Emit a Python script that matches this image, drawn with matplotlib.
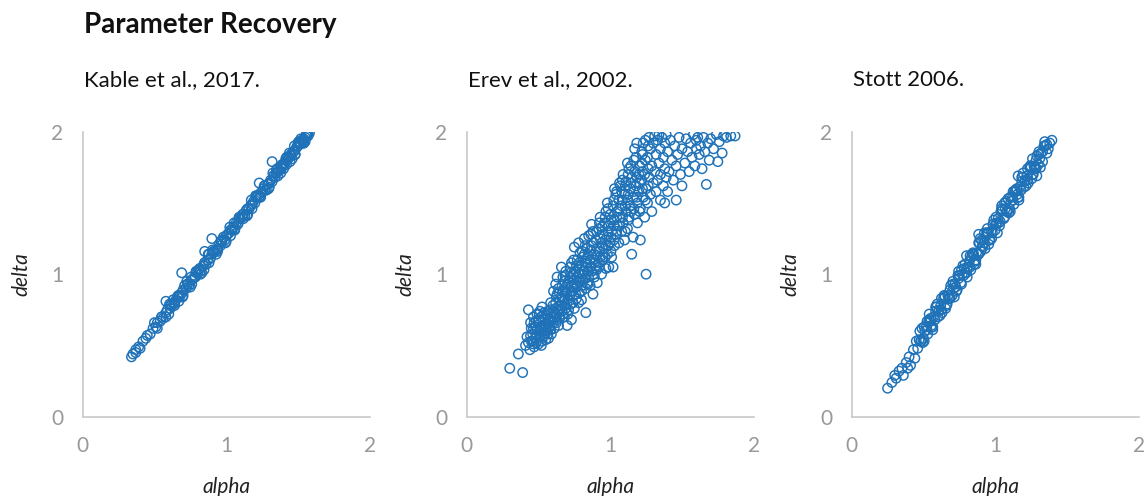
import matplotlib
matplotlib.use("Agg")
import matplotlib.pyplot as plt

plt.rcParams['font.family'] = ['Lato', 'DejaVu Sans']

# Kable et al., 2017.
kable_alpha = [0.34, 0.35, 0.37, 0.39, 0.40, 0.42, 0.44, 0.45, 0.47, 0.49,
               0.51, 0.52, 0.54, 0.55, 0.56, 0.58, 0.59, 0.61, 0.62, 0.64,
               0.65, 0.66, 0.68, 0.69, 0.70, 0.72, 0.73, 0.74, 0.76, 0.77,
               0.78, 0.80, 0.81, 0.82, 0.84, 0.85, 0.86, 0.87, 0.89, 0.90,
               0.91, 0.92, 0.94, 0.95, 0.96, 0.97, 0.99, 1.00, 1.01, 1.02,
               1.04, 1.05, 1.06, 1.07, 1.08, 1.10, 1.11, 1.12, 1.13, 1.14,
               1.16, 1.17, 1.18, 1.19, 1.20, 1.22, 1.23, 1.24, 1.25, 1.26,
               1.27, 1.29, 1.30, 1.31, 1.32, 1.33, 1.34, 1.35, 1.36, 1.37,
               1.38, 1.39, 1.40, 1.41, 1.42, 1.43, 1.44, 1.45, 1.46, 1.47,
               1.48, 1.49, 1.50, 1.51, 1.52, 1.53, 1.54, 1.55, 1.56, 1.57,
               1.58,
               0.60, 0.63, 0.67, 0.71, 0.75, 0.79, 0.83, 0.88, 0.93, 0.98,
               1.03, 1.09, 1.15, 1.21, 1.28, 1.35, 1.40, 1.44, 1.48, 1.52,
               1.55, 1.57, 1.56, 1.54, 1.50, 1.46, 1.42, 1.38,
               0.605, 0.635, 0.665, 0.695, 0.725, 0.755, 0.785, 0.815, 0.845, 0.875,
               0.905, 0.935, 0.965, 0.995, 1.025, 1.055, 1.085, 1.115, 1.145, 1.175,
               1.205, 1.235, 1.265, 1.295, 1.325, 1.355, 1.385, 1.415, 1.445, 1.475,
               1.505, 1.535, 1.565,
               0.52, 0.55, 0.58, 0.61, 0.64, 0.67, 0.70, 0.73, 0.76, 0.79,
               0.82, 0.85, 0.88, 0.91, 0.94, 0.97, 1.00, 1.03, 1.06, 1.09,
               1.12, 1.15, 1.18, 1.21, 1.24, 1.27, 1.30, 1.33, 1.36, 1.39,
               1.42, 1.45, 1.48, 1.51, 1.54, 1.57,
               0.90, 0.85, 0.69, 0.58, 1.32, 1.23, 0.50, 0.37]
kable_delta = [0.42, 0.44, 0.45, 0.49, 0.48, 0.53, 0.55, 0.57, 0.58, 0.62,
               0.63, 0.66, 0.67, 0.70, 0.69, 0.73, 0.75, 0.76, 0.79, 0.80,
               0.82, 0.84, 0.85, 0.87, 0.89, 0.90, 0.93, 0.92, 0.96, 0.97,
               0.98, 1.01, 1.03, 1.02, 1.06, 1.08, 1.07, 1.10, 1.11, 1.14,
               1.15, 1.16, 1.18, 1.21, 1.20, 1.23, 1.24, 1.27, 1.28, 1.29,
               1.31, 1.33, 1.32, 1.36, 1.35, 1.39, 1.40, 1.42, 1.41, 1.45,
               1.46, 1.48, 1.49, 1.51, 1.50, 1.55, 1.54, 1.57, 1.58, 1.60,
               1.59, 1.63, 1.64, 1.66, 1.65, 1.69, 1.68, 1.71, 1.72, 1.73,
               1.75, 1.76, 1.77, 1.78, 1.80, 1.81, 1.82, 1.83, 1.85, 1.86,
               1.87, 1.89, 1.90, 1.91, 1.92, 1.94, 1.95, 1.96, 1.97, 1.98,
               1.99,
               0.72, 0.82, 0.81, 0.92, 0.91, 1.02, 1.01, 1.14, 1.14, 1.26,
               1.27, 1.40, 1.42, 1.55, 1.59, 1.73, 1.74, 1.85, 1.84, 1.95,
               1.93, 1.97, 1.99, 1.92, 1.92, 1.81, 1.82, 1.71,
               0.79, 0.79, 0.85, 0.84, 0.95, 0.98, 0.98, 1.04, 1.03, 1.14,
               1.17, 1.17, 1.23, 1.22, 1.33, 1.36, 1.36, 1.42, 1.41, 1.52,
               1.55, 1.55, 1.62, 1.60, 1.71, 1.74, 1.74, 1.81, 1.79, 1.90,
               1.93, 1.93, 1.99,
               0.62, 0.70, 0.70, 0.78, 0.78, 0.85, 0.85, 0.93, 0.93, 1.01,
               1.00, 1.08, 1.08, 1.16, 1.16, 1.24, 1.23, 1.31, 1.31, 1.39,
               1.39, 1.46, 1.46, 1.54, 1.54, 1.62, 1.61, 1.69, 1.69, 1.77,
               1.77, 1.84, 1.84, 1.92, 1.92, 1.99,
               1.25, 1.16, 1.01, 0.81, 1.79, 1.64, 0.66, 0.47]

# Erev et al., 2002.
erev_alpha = [0.30, 0.36, 0.39,
              0.41, 0.42, 0.43, 0.44, 0.45, 0.45, 0.43,
              0.46, 0.47, 0.47, 0.48, 0.49, 0.49, 0.50, 0.50, 0.48, 0.46,
              0.51, 0.51, 0.52, 0.52, 0.53, 0.53, 0.54, 0.54, 0.55, 0.55, 0.52, 0.54,
              0.56, 0.56, 0.57, 0.57, 0.58, 0.58, 0.59, 0.59, 0.60, 0.60, 0.57, 0.59, 0.58,
              0.61, 0.61, 0.62, 0.62, 0.63, 0.63, 0.64, 0.64, 0.65, 0.65, 0.62, 0.64, 0.63,
              0.66, 0.66, 0.67, 0.67, 0.68, 0.68, 0.69, 0.69, 0.70, 0.70, 0.67, 0.69, 0.68, 0.70,
              0.71, 0.71, 0.72, 0.72, 0.73, 0.73, 0.74, 0.74, 0.75, 0.75, 0.72, 0.74, 0.73, 0.75,
              0.76, 0.76, 0.77, 0.77, 0.78, 0.78, 0.79, 0.79, 0.80, 0.80, 0.77, 0.79, 0.78, 0.80,
              0.81, 0.81, 0.82, 0.82, 0.83, 0.83, 0.84, 0.84, 0.85, 0.85, 0.82, 0.84, 0.83,
              0.86, 0.86, 0.87, 0.87, 0.88, 0.88, 0.89, 0.89, 0.90, 0.90, 0.87, 0.89,
              0.91, 0.91, 0.92, 0.92, 0.93, 0.93, 0.94, 0.94, 0.95, 0.95, 0.93,
              0.96, 0.96, 0.97, 0.97, 0.98, 0.98, 0.99, 0.99, 1.00, 1.00, 0.98,
              1.01, 1.01, 1.02, 1.02, 1.03, 1.03, 1.04, 1.04, 1.05, 1.05, 1.03,
              1.06, 1.06, 1.07, 1.07, 1.08, 1.08, 1.09, 1.09, 1.10, 1.10, 1.08,
              1.11, 1.11, 1.12, 1.12, 1.13, 1.13, 1.14, 1.14, 1.15, 1.15, 1.12,
              1.16, 1.16, 1.17, 1.17, 1.18, 1.18, 1.19, 1.19, 1.20, 1.20, 1.17,
              1.21, 1.21, 1.22, 1.22, 1.23, 1.23, 1.24, 1.24, 1.25, 1.25, 1.22,
              1.26, 1.26, 1.27, 1.27, 1.28, 1.28, 1.29, 1.29, 1.30, 1.30,
              1.31, 1.31, 1.32, 1.32, 1.33, 1.33, 1.34, 1.34, 1.35, 1.35, 1.35,
              1.36, 1.37, 1.37, 1.38, 1.38, 1.39, 1.39, 1.40, 1.40, 1.38,
              1.41, 1.42, 1.43, 1.44, 1.45, 1.46, 1.46, 1.47, 1.48, 1.49, 1.50, 1.50,
              1.52, 1.53, 1.54, 1.55, 1.56, 1.57, 1.58, 1.59, 1.60, 1.60,
              1.61, 1.62, 1.63, 1.64, 1.65, 1.66, 1.67, 1.68, 1.69, 1.70,
              1.72, 1.74, 1.75, 1.76, 1.78, 1.79, 1.81, 1.84, 1.87,
              0.445, 0.445, 0.465, 0.465, 0.465, 0.485, 0.485, 0.485,
              0.505, 0.505, 0.505, 0.525, 0.525, 0.525, 0.545, 0.545, 0.545,
              0.565, 0.565, 0.565, 0.585, 0.585, 0.585, 0.605, 0.605, 0.605,
              0.625, 0.625, 0.625, 0.645, 0.645, 0.645, 0.665, 0.665, 0.665,
              0.685, 0.685, 0.685, 0.705, 0.705, 0.705, 0.725, 0.725, 0.725,
              0.745, 0.745, 0.745, 0.765, 0.765, 0.765, 0.785, 0.785, 0.785,
              0.805, 0.805, 0.805, 0.825, 0.825, 0.825, 0.845, 0.845, 0.845,
              0.865, 0.865, 0.865, 0.885, 0.885, 0.885, 0.905, 0.905, 0.905,
              0.925, 0.925, 0.925, 0.945, 0.945, 0.945, 0.965, 0.965, 0.965,
              0.985, 0.985, 0.985, 1.005, 1.005, 1.005, 1.025, 1.025, 1.025,
              1.045, 1.045, 1.045, 1.065, 1.065, 1.065, 1.085, 1.085, 1.085,
              1.105, 1.105, 1.105, 1.125, 1.125, 1.125, 1.145, 1.145, 1.145,
              1.165, 1.165, 1.165, 1.185, 1.185, 1.185, 1.205, 1.205, 1.205,
              1.225, 1.225, 1.225, 1.245, 1.245, 1.245, 1.265, 1.265, 1.265]
erev_delta = [0.34, 0.44, 0.31,
              0.50, 0.56, 0.75, 0.47, 0.53, 0.62, 0.52,
              0.58, 0.49, 0.66, 0.55, 0.61, 0.72, 0.51, 0.68, 0.63, 0.53,
              0.57, 0.74, 0.62, 0.50, 0.68, 0.56, 0.73, 0.61, 0.65, 0.54, 0.70, 0.58,
              0.60, 0.71, 0.67, 0.55, 0.75, 0.63, 0.70, 0.58, 0.66, 0.78, 0.62, 0.73, 0.68,
              0.72, 0.62, 0.80, 0.93, 0.68, 0.86, 0.75, 0.64, 0.82, 0.70, 0.76, 0.90, 0.98,
              1.05, 0.78, 0.88, 0.72, 0.95, 0.82, 0.76, 1.02, 0.87, 0.64, 0.98, 0.91, 0.70, 0.80,
              0.95, 0.75, 1.05, 0.85, 0.91, 0.68, 1.00, 0.80, 1.19, 0.93, 0.98, 0.88, 1.08, 0.76,
              1.02, 0.86, 1.10, 0.92, 0.80, 1.00, 1.15, 0.95, 0.88, 1.06, 0.98, 1.03, 1.22, 0.82,
              1.12, 0.96, 1.25, 1.02, 0.73, 0.90, 1.08, 1.18, 0.98, 1.27, 1.14, 0.94, 1.05,
              1.10, 0.92, 1.20, 1.02, 1.30, 0.86, 1.14, 0.98, 1.24, 1.06, 1.35, 1.08,
              1.18, 0.94, 1.32, 1.05, 1.12, 1.40, 1.22, 1.00, 1.28, 1.12, 1.25,
              1.36, 1.18, 1.04, 1.44, 1.26, 1.14, 1.34, 1.05, 1.42, 1.22, 1.50,
              1.30, 1.12, 1.48, 1.05, 1.38, 1.20, 1.56, 1.28, 1.44, 1.34, 1.60,
              1.22, 1.52, 1.40, 1.62, 1.30, 1.48, 1.70, 1.36, 1.56, 1.24, 1.58,
              1.44, 1.65, 1.52, 1.32, 1.74, 1.40, 1.60, 1.48, 1.14, 1.68, 1.78,
              1.26, 1.54, 1.72, 1.42, 1.62, 1.82, 1.50, 1.36, 1.70, 1.58, 1.88,
              1.24, 1.46, 1.66, 1.78, 1.54, 1.92, 1.40, 1.70, 1.00, 1.60, 1.86,
              1.82, 1.50, 1.96, 1.68, 1.56, 1.88, 1.76, 1.44, 1.92, 1.64,
              1.97, 1.72, 1.84, 1.58, 1.94, 1.66, 1.78, 1.98, 1.70, 1.88, 1.52,
              1.96, 1.62, 1.82, 1.74, 1.92, 1.68, 1.98, 1.86, 1.58, 1.50,
              1.72, 1.94, 1.80, 1.66, 1.90, 1.52, 1.76, 1.84, 1.96, 1.70, 1.88, 1.62,
              1.78, 1.95, 1.86, 1.72, 1.92, 1.82, 1.98, 1.76, 1.94, 1.88,
              1.96, 1.84, 1.90, 1.74, 1.96, 1.86, 1.63, 1.92, 1.80, 1.95,
              1.88, 1.98, 1.79, 1.93, 1.85, 1.97, 1.96, 1.97, 1.97,
              0.57, 0.66, 0.51, 0.62, 0.70, 0.57, 0.67, 0.52,
              0.60, 0.72, 0.55, 0.64, 0.53, 0.77, 0.59, 0.69, 0.63,
              0.65, 0.58, 0.74, 0.61, 0.70, 0.80, 0.69, 0.74, 0.88,
              0.71, 0.84, 0.66, 0.78, 0.87, 0.69, 0.74, 0.92, 0.83,
              0.79, 0.88, 0.99, 0.83, 0.93, 0.72, 0.88, 1.01, 0.79,
              0.85, 0.96, 1.10, 0.91, 1.06, 0.83, 0.95, 1.08, 0.87,
              1.00, 1.16, 0.92, 0.97, 1.09, 1.20, 1.02, 1.13, 0.93,
              1.05, 1.17, 1.28, 1.10, 1.22, 1.00, 1.13, 1.30, 1.03,
              1.16, 1.36, 1.08, 1.20, 1.33, 1.10, 1.24, 1.40, 1.12,
              1.20, 1.30, 1.46, 1.26, 1.38, 1.16, 1.34, 1.52, 1.24,
              1.40, 1.30, 1.58, 1.46, 1.34, 1.64, 1.52, 1.40, 1.66,
              1.48, 1.62, 1.30, 1.56, 1.70, 1.38, 1.64, 1.44, 1.76,
              1.58, 1.80, 1.46, 1.68, 1.54, 1.92, 1.76, 1.64, 1.44,
              1.84, 1.60, 1.72, 1.94, 1.52, 1.80, 1.74, 1.90, 1.62]

# Stott 2006.
stott_alpha = [0.25, 0.28, 0.30, 0.31, 0.33, 0.35, 0.36, 0.38, 0.40, 0.41, 0.43, 0.44,
               0.45, 0.46, 0.47, 0.48, 0.49, 0.50, 0.51, 0.52, 0.53, 0.54,
               0.55, 0.56, 0.57, 0.58, 0.59, 0.60, 0.61, 0.62, 0.63, 0.64,
               0.65, 0.66, 0.67, 0.68, 0.69, 0.70, 0.71, 0.72, 0.73, 0.74,
               0.75, 0.76, 0.77, 0.78, 0.79, 0.80, 0.81, 0.82, 0.83, 0.84,
               0.85, 0.86, 0.87, 0.88, 0.89, 0.90, 0.91, 0.92, 0.93, 0.94,
               0.95, 0.96, 0.97, 0.98, 0.99, 1.00, 1.01, 1.02, 1.03, 1.04,
               1.05, 1.06, 1.07, 1.08, 1.09, 1.10, 1.11, 1.12, 1.13, 1.14,
               1.15, 1.16, 1.17, 1.18, 1.19, 1.20, 1.21, 1.22, 1.23, 1.24,
               1.25, 1.26, 1.27, 1.28, 1.29, 1.30, 1.31, 1.32, 1.33, 1.34,
               1.35, 1.36, 1.37, 1.38, 1.395, 1.36, 1.33,
               0.485, 0.505, 0.525, 0.545, 0.565, 0.585, 0.605, 0.625, 0.645, 0.665,
               0.685, 0.705, 0.725, 0.745, 0.765, 0.785, 0.805, 0.825, 0.845, 0.865,
               0.885, 0.905, 0.925, 0.945, 0.965, 0.985, 1.005, 1.025, 1.045, 1.065,
               1.085, 1.105, 1.125, 1.145, 1.165, 1.185, 1.205, 1.225, 1.245, 1.265,
               1.285, 1.305,
               0.475, 0.505, 0.535, 0.565, 0.595, 0.625, 0.655, 0.685, 0.715, 0.745,
               0.775, 0.805, 0.835, 0.865, 0.895, 0.925, 0.955, 0.985, 1.015, 1.045,
               1.075, 1.105, 1.135, 1.165, 1.195, 1.225, 1.255, 1.285, 1.315, 1.345,
               0.495, 0.525, 0.555, 0.585, 0.615, 0.645, 0.675, 0.705, 0.735, 0.765,
               0.795, 0.825, 0.855, 0.885, 0.915, 0.945, 0.975, 1.005, 1.035, 1.065,
               1.095, 1.125, 1.155, 1.185, 1.215, 1.245, 1.275, 1.305,
               0.885, 1.16, 1.29, 1.26, 0.80, 0.54, 0.39]
stott_delta = [0.20, 0.24, 0.29, 0.27, 0.32, 0.34, 0.29, 0.38, 0.42, 0.36, 0.47, 0.41,
               0.53, 0.48, 0.54, 0.53, 0.62, 0.55, 0.60, 0.63, 0.58, 0.68,
               0.69, 0.63, 0.70, 0.68, 0.77, 0.70, 0.75, 0.78, 0.73, 0.83,
               0.84, 0.78, 0.85, 0.83, 0.92, 0.85, 0.90, 0.93, 0.88, 0.99,
               0.99, 0.94, 1.00, 0.99, 1.07, 1.01, 1.05, 1.09, 1.03, 1.14,
               1.14, 1.09, 1.15, 1.14, 1.22, 1.16, 1.20, 1.24, 1.18, 1.29,
               1.29, 1.24, 1.30, 1.29, 1.38, 1.31, 1.36, 1.39, 1.34, 1.44,
               1.45, 1.39, 1.46, 1.44, 1.53, 1.46, 1.51, 1.54, 1.49, 1.59,
               1.60, 1.54, 1.61, 1.59, 1.68, 1.61, 1.66, 1.69, 1.64, 1.75,
               1.75, 1.70, 1.76, 1.75, 1.83, 1.77, 1.81, 1.85, 1.79, 1.90,
               1.90, 1.85, 1.88, 1.92, 1.94, 1.91, 1.86,
               0.53, 0.63, 0.61, 0.67, 0.63, 0.74, 0.74, 0.75, 0.85, 0.79,
               0.83, 0.93, 0.91, 0.97, 0.93, 1.04, 1.04, 1.05, 1.15, 1.10,
               1.14, 1.24, 1.22, 1.28, 1.24, 1.35, 1.35, 1.36, 1.46, 1.40,
               1.44, 1.54, 1.52, 1.58, 1.54, 1.65, 1.65, 1.66, 1.76, 1.70,
               1.74, 1.84,
               0.60, 0.53, 0.66, 0.61, 0.79, 0.83, 0.76, 0.89, 0.84, 1.02,
               1.06, 0.98, 1.12, 1.07, 1.25, 1.29, 1.21, 1.35, 1.29, 1.48,
               1.51, 1.44, 1.58, 1.52, 1.71, 1.74, 1.67, 1.80, 1.75, 1.93,
               0.52, 0.67, 0.64, 0.77, 0.71, 0.85, 0.83, 0.95, 0.89, 1.03,
               1.01, 1.13, 1.07, 1.22, 1.19, 1.32, 1.25, 1.40, 1.37, 1.50,
               1.43, 1.58, 1.56, 1.68, 1.62, 1.76, 1.74, 1.86,
               1.28, 1.69, 1.69, 1.81, 1.13, 0.72, 0.34]

panels = [("Kable et al., 2017.", kable_alpha, kable_delta),
          ("Erev et al., 2002.", erev_alpha, erev_delta),
          ("Stott 2006.", stott_alpha, stott_delta)]

color = '#1f72b8'
grey = '#c8c8c8'
tick_grey = '#999999'

fig = plt.figure(figsize=(11.44, 4.96), dpi=100)
fig.text(84 / 1144, 1 - 25 / 496, "Parameter Recovery", fontsize=20,
         fontweight='bold', ha='left', va='center', color='#111111')

lefts = [82.7, 466.7, 851.7]
for left, (name, xs, ys) in zip(lefts, panels):
    ax = fig.add_axes([left / 1144, 79.3 / 496, 287 / 1144, 285 / 496])
    ax.scatter(xs, ys, s=46, facecolors='none', edgecolors=color, linewidths=1.05)
    ax.set_xlim(0, 2)
    ax.set_ylim(0, 2)
    ax.set_xticks([0, 1, 2])
    ax.set_yticks([0, 1, 2])
    for side in ['top', 'right']:
        ax.spines[side].set_visible(False)
    for side in ['left', 'bottom']:
        ax.spines[side].set_color(grey)
        ax.spines[side].set_linewidth(1.2)
    ax.tick_params(length=0, pad=14, labelsize=15, labelcolor=tick_grey)
    ax.set_xlabel("alpha", fontsize=15, style='italic', labelpad=15, color='#222222')
    ax.set_ylabel("delta", fontsize=15, style='italic', labelpad=14, color='#222222')
    fig.text((left + 1.5) / 1144, 1 - 80 / 496, name, fontsize=16,
             ha='left', va='center', color='#111111')

fig.savefig("out.png", dpi=100)
